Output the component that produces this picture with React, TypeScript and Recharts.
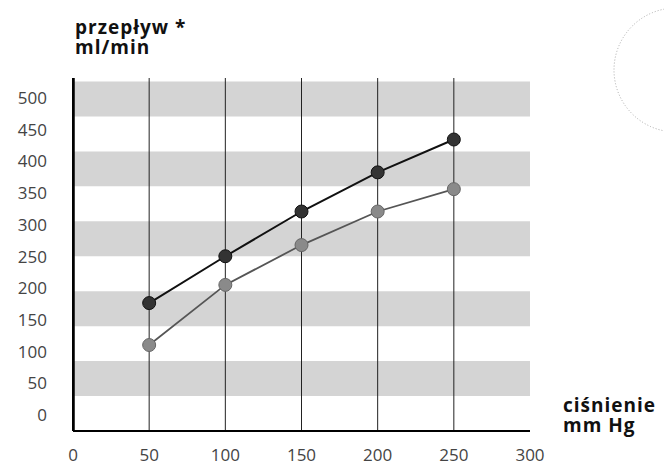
import React from 'react';
import { ComposedChart, Line, XAxis, YAxis, ReferenceArea, ReferenceLine } from 'recharts';

const pressures = [50, 100, 150, 200, 250];
const flowDark = [183, 250, 314, 370, 417];
const flowLight = [123, 209, 266, 314, 346];
const xTicks = [0, 50, 100, 150, 200, 250, 300];
const yTicks = [0, 50, 100, 150, 200, 250, 300, 350, 400, 450, 500];
const bands: [number, number][] = [[50, 100], [150, 200], [250, 300], [350, 400], [450, 500]];
const gridX = [50, 100, 150, 200, 250];
const yTop = 505;

const data = pressures.map((p, i) => ({ p, dark: flowDark[i], light: flowLight[i] }));

const tickFont = { fontFamily: 'Open Sans, sans-serif', fontSize: 17, fill: '#444' };

// The printed y labels are set slightly tighter than the grid they belong to.
const YTick = (props: any) => {
  const { x, y, payload } = props;
  const v = payload.value as number;
  const shift = -16 + v * 0.065;
  return (
    <text x={x} y={y + shift} dy="0.355em" textAnchor="end" {...tickFont}>
      {v}
    </text>
  );
};

const titleStyle: React.CSSProperties = {
  position: 'absolute',
  fontFamily: 'Open Sans, sans-serif',
  fontWeight: 700,
  fontSize: 19,
  lineHeight: '20px',
  letterSpacing: 1,
  color: '#111',
  whiteSpace: 'nowrap',
};

export default function App() {
  return (
    <div style={{ position: 'absolute', left: 0, top: 0, width: 664, height: 467, background: '#fff', overflow: 'hidden' }}>
      <ComposedChart width={664} height={467} data={data} margin={{ top: 78, right: 134, bottom: 0, left: 0 }}>
        {bands.map(([a, b]) => (
          <ReferenceArea key={a} x1={0} x2={300} y1={a} y2={b} fill="#d4d4d4" fillOpacity={1} stroke="none" ifOverflow="visible" />
        ))}
        {gridX.map((x) => (
          <ReferenceLine key={x} x={x} stroke="#222" strokeWidth={1} />
        ))}
        <ReferenceLine x={0.5} stroke="#000" strokeWidth={2} ifOverflow="visible" />
        <XAxis
          dataKey="p"
          type="number"
          domain={[0, 300]}
          ticks={xTicks}
          height={36}
          axisLine={{ stroke: '#000', strokeWidth: 2 }}
          tickLine={false}
          tickMargin={12}
          tick={tickFont}
          interval={0}
        />
        <YAxis
          type="number"
          domain={[0, yTop]}
          ticks={yTicks}
          width={73}
          tickLine={{ stroke: 'none' }}
          tickMargin={20}
          tick={<YTick />}
          interval={0}
          axisLine={{ stroke: '#000', strokeWidth: 2 }}
        />
        <Line dataKey="light" stroke="#555" strokeWidth={1.8} isAnimationActive={false}
          dot={{ r: 6.5, fill: '#8a8a8a', stroke: '#666', strokeWidth: 1 }} />
        <Line dataKey="dark" stroke="#111" strokeWidth={2} isAnimationActive={false}
          dot={{ r: 6.5, fill: '#333', stroke: '#111', strokeWidth: 1 }} />
      </ComposedChart>
      <svg width={64} height={140} style={{ position: 'absolute', left: 600, top: 0, pointerEvents: 'none' }}>
        <circle cx={76} cy={70} r={62} fill="none" stroke="#aaa" strokeWidth={1} strokeDasharray="1 2" />
      </svg>
      <div style={{ ...titleStyle, left: 75, top: 17 }}>
        przepływ *<br />ml/min
      </div>
      <div style={{ ...titleStyle, left: 563, top: 395 }}>
        ciśnienie<br />mm Hg
      </div>
    </div>
  );
}
